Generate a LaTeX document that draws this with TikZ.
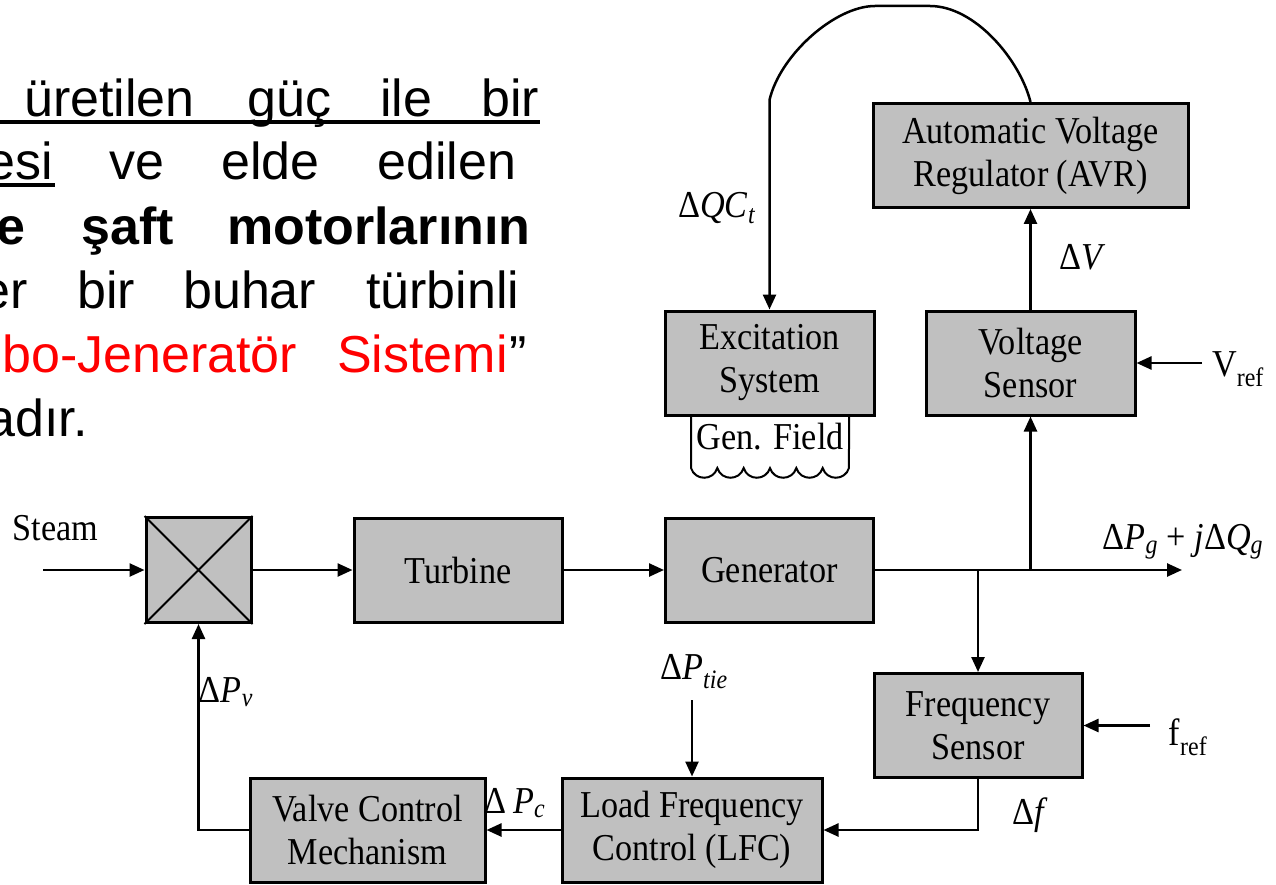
\documentclass[tikz,border=0pt]{standalone}
\usepackage{fontspec}
\setmainfont{Liberation Serif}
\newfontfamily\sansf{Liberation Sans}
\newfontfamily\diagf[FakeStretch=0.9]{Liberation Serif}
\usetikzlibrary{arrows.meta,calc}
\definecolor{boxgray}{RGB}{192,192,192}
\definecolor{txtred}{RGB}{255,0,0}
\begin{document}
\begin{tikzpicture}[x=1pt,y=-1pt,
  blk/.style={draw=black,line width=3pt,fill=boxgray,inner sep=0pt,align=center,
    font=\diagf\fontsize{38}{43}\selectfont},
  conn/.style={line width=2.5pt},
  arr/.style={conn,-{Triangle[length=15pt,width=13pt]}},
  lbl/.style={inner sep=0pt,font=\diagf\fontsize{38}{43}\selectfont},
  wl/.style={inner sep=0pt,anchor=base west,font=\sansf\fontsize{52}{62}\selectfont},
  wr/.style={inner sep=0pt,anchor=base east,font=\sansf\fontsize{52}{62}\selectfont},
]
\useasboundingbox[fill=white] (0,0) rectangle (1276,885);
\clip (0,0) rectangle (1276,885);

% ---------- paragraph text ----------
\node[wl] (w1) at (24,117) {üretilen};
\node[wl] (w2) at (247,117) {güç};
\node[wl] (w3) at (380,117) {ile};
\node[wl] (w4) at (481,117) {bir};
\draw[line width=4pt] (0,122) -- (540,122);
\node[wr] (w5) at (53,180) {esi};
\draw[line width=4pt] (0,185.5) -- (55,185.5);
\node[wl] (w6) at (109,180) {ve};
\node[wl] (w7) at (221,180) {elde};
\node[wl] (w8) at (377,180) {edilen};
\node[wr] (w9) at (26,244) {\bfseries e};
\node[wl] (w10) at (81,244) {\bfseries şaft};
\node[wl] (w11) at (227,244) {\bfseries motorlarının};
\node[wr] (w12) at (28,308) {er};
\node[wl] (w13) at (77,308) {bir};
\node[wl] (w14) at (183,308) {buhar};
\node[wl] (w15) at (366,308) {türbinli};
\node[wl,text=txtred] (w16) at (2,372) {bo-Jeneratör};
\node[wl,text=txtred] (w17) at (337,372) {Sistemi};
\node[wl] (w18) at (509,372) {”};
\node[wr] (w19) at (88,436) {adır.};

% ---------- blocks ----------
\node[blk,minimum width=105pt,minimum height=105pt] (valve) at (198.5,570) {};
\draw[line width=2pt] (valve.north west) -- (valve.south east)
                      (valve.north east) -- (valve.south west);
\node[blk,minimum width=208pt,minimum height=104pt] (turb) at (458,570) {Turbine};
\node[blk,minimum width=208pt,minimum height=104pt] (gen) at (769.5,570) {Generator};
\node[blk,minimum width=209pt,minimum height=104pt] (exc) at (769.5,363) {Excitation\\System};
\node[blk,minimum width=209pt,minimum height=104pt] (vs) at (1030.5,363) {Voltage\\Sensor};
\node[blk,minimum width=315pt,minimum height=104pt] (avr) at (1030.5,155.5) {Automatic Voltage\\Regulator (AVR)};
\node[blk,minimum width=208pt,minimum height=104pt] (fs) at (978,725.5) {Frequency\\Sensor};
\node[blk,minimum width=260pt,minimum height=104pt] (lfc) at (692,830) {Load Frequency\\Control (LFC)};
\node[blk,minimum width=235pt,minimum height=104pt] (vcm) at (367.5,830) {Valve Control\\Mechanism};

% ---------- generator field coil ----------
\node[lbl] (gf) at (770,437) {Gen. Field};
\draw[line width=2pt] (691,415) -- (691,468)
  \foreach \i in {0,...,5} {
    .. controls ({691+26.33*\i+4},481) and ({691+26.33*(\i+1)-4},481) .. ({691+26.33*(\i+1)},468)
  } -- (849,415);

% ---------- connectors ----------
\coordinate (steamin) at (43,570);
\coordinate (out) at (1182,570);
\coordinate (j1) at (1030.5,570);
\coordinate (j2) at (978,570);
\coordinate (vref) at (1202,363);
\coordinate (fref) at (1150,725.5);
\coordinate (ptie) at (692,700);
\coordinate (qc) at (769.5,100);

\draw[arr] (steamin) -- (valve.west);
\draw[arr] (valve.east) -- (turb.west);
\draw[arr] (turb.east) -- (gen.west);
\draw[arr] (gen.east) -- (out);
\draw[arr] (j1) -- (vs.south);
\draw[arr] (j2) -- (fs.north);
\draw[arr] (vs.north) -- (avr.south);
\draw[arr] (vref) -- (vs.east);
\draw[arr] (fref) -- (fs.east);
\draw[arr] (fs.south) |- (lfc.east);
\draw[arr] (ptie) -- (lfc.north);
\draw[arr] (lfc.west) -- (vcm.east);
\draw[arr] (vcm.west) -| (valve.south);
\draw[arr] (avr.north) .. controls (1020,60) and (975,6) .. (930,6) -- (875,6)
  .. controls (835,6) and (780,55) .. (qc) -- (exc.north);

% ---------- labels ----------
\node[lbl] (lsteam) at (55.5,528) {Steam};
\node[lbl] (lpv) at (226,692) {Δ\textit{P}\textsubscript{\textit{v}}};
\node[lbl] (lpc) at (515,803) {Δ\,\textit{P}\textsubscript{\textit{c}}};
\node[lbl] (lptie) at (694,672) {Δ\textit{P}\textsubscript{\textit{tie}}};
\node[lbl] (ldf) at (1030,815) {Δ\textit{f}};
\node[lbl] (lfref) at (1188,737) {f\textsubscript{ref}};
\node[lbl] (lvref) at (1238,369) {V\textsubscript{ref}};
\node[lbl] (ldv) at (1083,257) {Δ\textit{V}};
\node[lbl] (lqc) at (717,208) {Δ\textit{QC}\textsubscript{\textit{t}}};
\node[lbl] (lpg) at (1183,542) {Δ\textit{P}\textsubscript{\textit{g}} + \textit{j}Δ\textit{Q}\textsubscript{\textit{g}}};
\end{tikzpicture}
\end{document}
